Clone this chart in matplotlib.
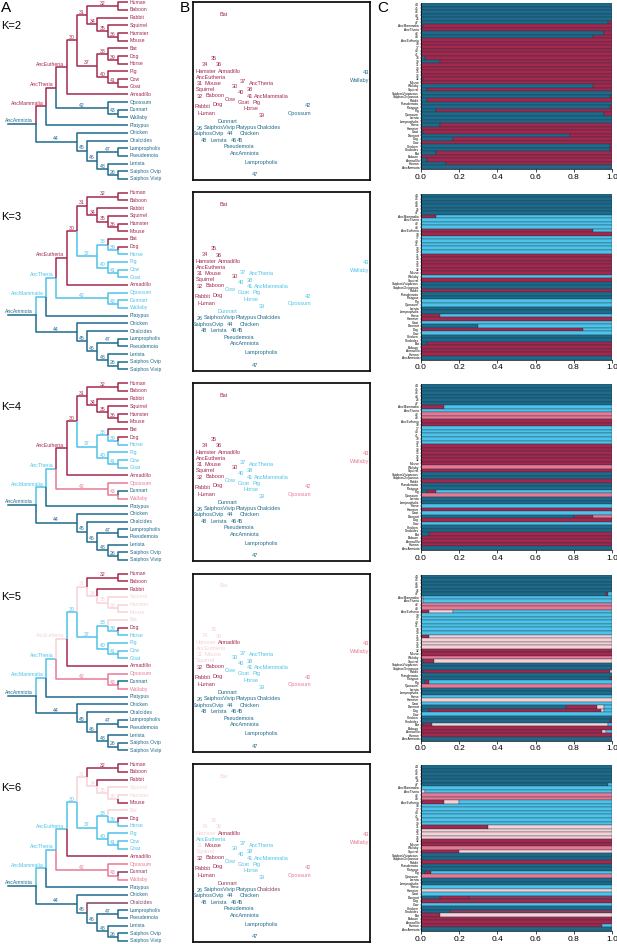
"""
Five-row composite: cladogram (A), MDS-style label map (B) and
stacked cluster-membership bars (C) for K = 2..6.
"""
import matplotlib

matplotlib.use("Agg")
import matplotlib.pyplot as plt
import numpy as np

plt.rcParams["font.family"] = ["Liberation Sans", "DejaVu Sans"]

W, H = 617, 944
ROW_PITCH = 190.5

COLORS = {
    "t": "#1f6a8b",   # dark teal
    "c": "#a4284d",   # crimson
    "w": "#f6d2d7",   # pale pink
    "p": "#e87995",   # pink
    "b": "#4ec2e9",   # light blue
    "m": "#84405e",   # mauve
}
STACK = ["t", "c", "w", "p", "b", "m"]

# ---- tree topology ----
ROOT = "AncAmniota"
CHILDREN = {
    "AncAmniota": ["AncMammalia", "44"],
    "AncMammalia": ["AncTheria", "Platypus"],
    "AncTheria": ["AncEutheria", "42"],
    "AncEutheria": ["30", "Armadillo"],
    "30": ["31", "37"],
    "31": ["32", "34"],
    "32": ["Human", "Baboon"],
    "34": ["Rabbit", "35"],
    "35": ["Squirrel", "36"],
    "36": ["Hamster", "Mouse"],
    "37": ["38", "40"],
    "38": ["Bat", "39"],
    "39": ["Dog", "Horse"],
    "40": ["Pig", "41"],
    "41": ["Cow", "Goat"],
    "42": ["Opossum", "43"],
    "43": ["Dunnart", "Wallaby"],
    "44": ["Chicken", "45"],
    "45": ["Chalcides", "46"],
    "46": ["47", "48"],
    "47": ["Lampropholis", "Pseudemoia"],
    "48": ["Lerista", "26"],
    "26": ["SaiphosOviparous", "SaiphosViviparous"],
}
TREE_LABEL = {"SaiphosOviparous": "Saiphos Ovip", "SaiphosViviparous": "Saiphos Vivip"}
MDS_LABEL = {"SaiphosOviparous": "SaiphosOvip", "SaiphosViviparous": "SaiphosVivip"}

# ---- rows of panel C (top to bottom); all other per-node lists follow this order ----
ROWS = ["44", "45", "46", "48", "26", "47", "AncMammalia", "AncTheria", "42", "43",
        "AncEutheria", "30", "37", "40", "41", "38", "39", "31", "34", "35", "36", "32",
        "Mouse", "Wallaby", "Squirrel", "SaiphosViviparous", "SaiphosOviparous", "Rabbit",
        "Pseudemoia", "Platypus", "Pig", "Opossum", "Lerista", "Lampropholis", "Horse",
        "Hamster", "Goat", "Dunnart", "Dog", "Cow", "Chicken", "Chalcides", "Bat",
        "Baboon", "Armadillo", "Human", "AncAmniota"]

# ---- panel B coordinates (0-100 box units) ----
MDS_X = [20.7, 26.7, 23.3, 6.4, 3.6, 35.3, 44.4, 38.7, 64.8, 97.7,
         10.2, 23.5, 28.4, 27.1, 32.3, 32.1, 38.9, 3.6, 6.6, 11.5, 14.7, 4.1,
         11.5, 94.0, 7.1, 15.0, 8.8, 5.5,
         26.1, 29.9, 35.7, 60.0, 14.3, 38.3, 32.5,
         7.1, 28.6, 19.4, 13.9, 21.1, 32.3, 42.7, 17.3,
         12.2, 20.7, 7.5, 29.5]
MDS_Y = [26.0, 22.4, 22.2, 22.2, 29.2, 3.0, 47.0, 54.4, 41.7, 60.6,
         57.8, 52.7, 55.1, 49.3, 47.0, 50.8, 36.1, 54.4, 65.0, 68.4, 64.7, 47.1,
         54.4, 56.1, 51.0, 29.7, 26.0, 41.5,
         18.7, 29.7, 43.6, 37.6, 22.2, 10.0, 40.0,
         61.1, 43.6, 33.1, 42.2, 45.4, 26.0, 29.7, 93.1,
         47.5, 61.1, 37.6, 15.1]

# ---- dominant cluster per node, per K (order of ROWS) ----
K_VALUES = [2, 3, 4, 5, 6]
CLUSTER_K2 = "tttttt" "ccttc" "cccccc" "ccccc" "ctcttcttct" "ttccctcctt" "cccct"
CLUSTER_K3 = "tttttt" "bbbbc" "cbbbbb" "ccccc" "cbcttcttbb" "ttbcbbcbtt" "cccct"
CLUSTER_K4 = "tttttt" "bbppc" "cbbbbb" "ccccc" "cpcttcttbp" "ttbcbtcbtt" "cccct"
CLUSTER_K5 = "tttttt" "bbppw" "bbbbbb" "wwwwc" "wpwttcttbp" "ttbwbtcbtt" "wccct"
CLUSTER_K6 = "tttttt" "bbppb" "bbbbbb" "wwwwc" "cpwttcttbp" "ttbwbmcbtm" "wccct"

# ---- mixed membership rows in panel C ----
MIX_K2 = {
    "47": {"t": .98, "c": .02}, "AncMammalia": {"t": .01, "c": .99},
    "42": {"t": .96, "c": .04}, "43": {"t": .90, "c": .10},
    "38": {"t": .02, "c": .98}, "39": {"t": .10, "c": .90}, "32": {"t": .01, "c": .99},
    "Wallaby": {"t": .90, "c": .10}, "Squirrel": {"t": .03, "c": .97},
    "SaiphosOviparous": {"t": .99, "c": .01}, "Rabbit": {"t": .03, "c": .97},
    "Platypus": {"t": .99, "c": .01}, "Pig": {"t": .08, "c": .92},
    "Opossum": {"t": .96, "c": .04}, "Horse": {"t": .10, "c": .90},
    "Goat": {"t": .01, "c": .99}, "Dunnart": {"t": .78, "c": .22},
    "Dog": {"t": .17, "c": .83}, "Chicken": {"t": .99, "c": .01},
    "Chalcides": {"t": .99, "c": .01}, "Bat": {"t": .08, "c": .92},
    "Armadillo": {"t": .03, "c": .97}, "Human": {"t": .13, "c": .87},
}
MIX_K3 = {
    "AncMammalia": {"c": .08, "b": .92}, "AncEutheria": {"c": .90, "b": .10},
    "Dog": {"c": .85, "b": .15}, "Horse": {"c": .10, "b": .90},
    "Dunnart": {"t": .30, "b": .70}, "Bat": {"t": .03, "c": .97},
}
MIX_K4 = {
    "AncMammalia": {"c": .12, "b": .88}, "Pig": {"t": .03, "c": .05, "b": .92},
    "Dunnart": {"t": .80, "c": .10, "p": .10}, "Bat": {"t": .04, "c": .96},
}
MIX_K5 = {
    "47": {"t": .97, "c": .01, "b": .02}, "AncMammalia": {"w": .01, "b": .99},
    "AncTheria": {"w": .01, "b": .99}, "AncEutheria": {"c": .04, "w": .13, "b": .83},
    "31": {"c": .04, "w": .96}, "Mouse": {"c": 1.0},
    "Squirrel": {"t": .01, "c": .06, "w": .93}, "Rabbit": {"t": .01, "c": .98, "w": .01},
    "Platypus": {"t": .99, "c": .01}, "Pig": {"t": .02, "c": .02, "b": .96},
    "Dunnart": {"t": .76, "c": .16, "w": .04, "b": .04},
    "Dog": {"t": .04, "c": .90, "w": .02, "b": .04}, "Chalcides": {"t": .99, "c": .01},
    "Bat": {"t": .01, "c": .05, "w": .92, "b": .02},
    "Armadillo": {"c": .95, "w": .02, "b": .03},
}
MIX_K6 = {
    "47": {"t": .98, "b": .02}, "AncTheria": {"w": .02, "b": .98},
    "AncEutheria": {"c": .12, "w": .08, "b": .80}, "31": {"c": .35, "w": .65},
    "Squirrel": {"c": .20, "w": .80}, "Pig": {"t": .02, "c": .03, "b": .95},
    "Dunnart": {"t": .10, "c": .15, "m": .75}, "Chalcides": {"t": .15, "m": .85},
    "Bat": {"c": .10, "w": .90}, "Human": {"c": .95, "b": .05},
}
CLUSTERS = [CLUSTER_K2, CLUSTER_K3, CLUSTER_K4, CLUSTER_K5, CLUSTER_K6]
MIXES = [MIX_K2, MIX_K3, MIX_K4, MIX_K5, MIX_K6]


def px_axes(fig, x, y, w, h):
    return fig.add_axes([x / W, 1 - (y + h) / H, w / W, h / H])


def tree_layout():
    leaf_x, leaf_y0, leaf_dy, level_dx = 128.3, 2.3, 7.68, 10.29
    leaves, ys, level = [], {}, {}

    def collect(n):
        if n not in CHILDREN:
            leaves.append(n)
            return
        for c in CHILDREN[n]:
            collect(c)

    collect(ROOT)
    for i, n in enumerate(leaves):
        ys[n] = leaf_y0 + i * leaf_dy

    def height(n):
        if n not in CHILDREN:
            level[n] = 0
            return 0
        h = max(height(c) for c in CHILDREN[n]) + 1
        level[n] = h
        ys[n] = np.mean([ys[c] for c in CHILDREN[n]])
        return h

    height(ROOT)
    xs = {n: leaf_x - level[n] * level_dx for n in level}
    return xs, ys


def draw_tree(ax, col):
    xs, ys = tree_layout()
    parent = {c: p for p, cs in CHILDREN.items() for c in cs}
    for p, cs in CHILDREN.items():
        for c in cs:
            ax.plot([xs[p], xs[p], xs[c]], [ys[p], ys[c], ys[c]],
                    color=COLORS[col[c]], lw=1.1, solid_capstyle="butt")
    ax.plot([8.3, xs[ROOT]], [ys[ROOT], ys[ROOT]], color=COLORS[col[ROOT]], lw=1.1)
    for n in xs:
        color = COLORS[col[n]]
        if n not in CHILDREN:
            ax.text(xs[n] + 1.6, ys[n], TREE_LABEL.get(n, n), fontsize=3.7,
                    color=color, va="center", ha="left")
        elif n.startswith("Anc"):
            ax.text(xs[n] - 2.5, ys[n] - 3.2, n, fontsize=3.7, color=color,
                    va="center", ha="right")
        else:
            ax.text((xs[parent[n]] + xs[n]) / 2, ys[n] - 2.8, n, fontsize=3.7,
                    color=color, va="center", ha="center")
    ax.set_xlim(0, 190)
    ax.set_ylim(188, 0)
    ax.axis("off")


def draw_mds(ax, col):
    for n, x, y in zip(ROWS, MDS_X, MDS_Y):
        ax.text(x, y, MDS_LABEL.get(n, n), fontsize=4.0, color=COLORS[col[n]],
                ha="center", va="center")
    ax.set_xlim(0, 100)
    ax.set_ylim(0, 100)
    ax.set_xticks([])
    ax.set_yticks([])
    for s in ax.spines.values():
        s.set_linewidth(1.3)
        s.set_color("#111111")


def draw_bars(ax, col, mix):
    ypos = np.arange(len(ROWS))
    for i, n in enumerate(ROWS):
        fracs = mix.get(n, {col[n]: 1.0})
        left = 0.0
        for code in STACK:
            f = fracs.get(code, 0.0)
            if f <= 0:
                continue
            ax.barh(ypos[i], f, left=left, height=1.0, color=COLORS[code],
                    edgecolor="#17323f", linewidth=0.25)
            left += f
    ax.set_xlim(0, 1)
    ax.set_ylim(len(ROWS) - 0.5, -0.5)
    ax.set_yticks(ypos)
    ax.set_yticklabels(ROWS, fontsize=2.3)
    ax.set_xticks(np.linspace(0, 1, 6))
    ax.set_xticklabels([f"{v:.1f}" for v in np.linspace(0, 1, 6)], fontsize=6)
    ax.tick_params(axis="y", length=0.8, width=0.3, pad=0.6)
    ax.tick_params(axis="x", length=2, width=0.5, pad=1.5)
    for side in ("top", "right"):
        ax.spines[side].set_visible(False)
    for side in ("left", "bottom"):
        ax.spines[side].set_linewidth(0.5)


def main():
    fig = plt.figure(figsize=(W / 100, H / 100), dpi=100)
    for r, (k, codes, mix) in enumerate(zip(K_VALUES, CLUSTERS, MIXES)):
        col = dict(zip(ROWS, codes))
        top = r * ROW_PITCH
        draw_tree(px_axes(fig, 0, top, 190, 188), col)
        draw_mds(px_axes(fig, 193, top + 2, 177, 178), col)
        draw_bars(px_axes(fig, 421, top + 3, 191, 166), col, mix)
        fig.text(1 / W, 1 - (top + 26) / H, f"K={k}", fontsize=8, va="center", ha="left")

    fig.text(1 / W, 1 - 1 / H, "A", fontsize=11, va="top", ha="left")
    fig.text(180 / W, 1 - 1 / H, "B", fontsize=11, va="top", ha="left")
    fig.text(377 / W, 1 - 1 / H, "C", fontsize=11, va="top", ha="left")
    fig.savefig("out.png", dpi=100)
    plt.close(fig)


if __name__ == "__main__":
    main()
